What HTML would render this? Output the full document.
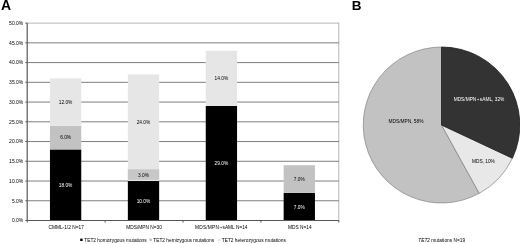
<!DOCTYPE html>
<html><head><meta charset="utf-8"><title>Figure</title>
<style>
html,body{margin:0;padding:0;background:#fff;}
body{width:520px;height:244px;overflow:hidden;}
svg{display:block;font-family:"Liberation Sans",Arial,sans-serif;}
.t{font-size:4.8px;fill:#000;}
.w{fill:#fff;}
.h{font-size:14px;font-weight:bold;fill:#000;}
</style></head><body>
<svg width="520" height="244" viewBox="0 0 520 244">
<rect width="520" height="244" fill="#fff"/>
<text class="h" x="1" y="10.3">A</text>
<text class="h" x="351.7" y="10.45" style="font-size:13.5px">B</text>
<rect x="27.2" y="23.1" width="311.6" height="197.4" fill="none" stroke="#b0b0b0" stroke-width="0.9"/>
<line x1="27.2" x2="338.8" y1="200.76" y2="200.76" stroke="#707070" stroke-width="0.9"/>
<line x1="27.2" x2="338.8" y1="181.02" y2="181.02" stroke="#707070" stroke-width="0.9"/>
<line x1="27.2" x2="338.8" y1="161.28" y2="161.28" stroke="#707070" stroke-width="0.9"/>
<line x1="27.2" x2="338.8" y1="141.54" y2="141.54" stroke="#707070" stroke-width="0.9"/>
<line x1="27.2" x2="338.8" y1="121.80" y2="121.80" stroke="#707070" stroke-width="0.9"/>
<line x1="27.2" x2="338.8" y1="102.06" y2="102.06" stroke="#707070" stroke-width="0.9"/>
<line x1="27.2" x2="338.8" y1="82.32" y2="82.32" stroke="#707070" stroke-width="0.9"/>
<line x1="27.2" x2="338.8" y1="62.58" y2="62.58" stroke="#707070" stroke-width="0.9"/>
<line x1="27.2" x2="338.8" y1="42.84" y2="42.84" stroke="#707070" stroke-width="0.9"/>
<rect x="49.95" y="149.44" width="31.3" height="71.06" fill="#000000"/>
<text class="t w" x="65.60" y="186.82" text-anchor="middle">18.0%</text>
<rect x="49.95" y="125.75" width="31.3" height="23.69" fill="#c2c2c2"/>
<text class="t" x="65.60" y="139.44" text-anchor="middle">6.0%</text>
<rect x="49.95" y="78.37" width="31.3" height="47.38" fill="#e6e6e6"/>
<text class="t" x="65.60" y="103.91" text-anchor="middle">12.0%</text>
<rect x="127.85" y="181.02" width="31.3" height="39.48" fill="#000000"/>
<text class="t w" x="143.50" y="202.61" text-anchor="middle">10.0%</text>
<rect x="127.85" y="169.18" width="31.3" height="11.84" fill="#e4e4e4"/>
<rect x="127.85" y="169.18" width="31.3" height="10.64" fill="#c7c7c7"/>
<text class="t" x="143.50" y="176.95" text-anchor="middle">3.0%</text>
<rect x="127.85" y="74.42" width="31.3" height="94.75" fill="#e6e6e6"/>
<text class="t" x="143.50" y="123.65" text-anchor="middle">24.0%</text>
<rect x="205.75" y="106.01" width="31.3" height="114.49" fill="#000000"/>
<text class="t w" x="221.40" y="165.10" text-anchor="middle">29.0%</text>
<rect x="205.75" y="50.74" width="31.3" height="55.27" fill="#e6e6e6"/>
<text class="t" x="221.40" y="80.22" text-anchor="middle">14.0%</text>
<rect x="283.65" y="192.86" width="31.3" height="27.64" fill="#000000"/>
<text class="t w" x="299.30" y="208.53" text-anchor="middle">7.0%</text>
<rect x="283.65" y="165.23" width="31.3" height="27.64" fill="#c2c2c2"/>
<text class="t" x="299.30" y="180.90" text-anchor="middle">7.0%</text>
<line x1="27.2" x2="27.2" y1="23.1" y2="220.5" stroke="#555" stroke-width="1"/>
<line x1="27.2" x2="338.8" y1="220.5" y2="220.5" stroke="#555" stroke-width="1"/>
<line x1="25.4" x2="27.2" y1="220.50" y2="220.50" stroke="#555" stroke-width="1"/>
<text class="t" x="23.3" y="222.40" text-anchor="end" style="font-size:5px">0.0%</text>
<line x1="25.4" x2="27.2" y1="200.76" y2="200.76" stroke="#555" stroke-width="1"/>
<text class="t" x="23.3" y="202.66" text-anchor="end" style="font-size:5px">5.0%</text>
<line x1="25.4" x2="27.2" y1="181.02" y2="181.02" stroke="#555" stroke-width="1"/>
<text class="t" x="23.3" y="182.92" text-anchor="end" style="font-size:5px">10.0%</text>
<line x1="25.4" x2="27.2" y1="161.28" y2="161.28" stroke="#555" stroke-width="1"/>
<text class="t" x="23.3" y="163.18" text-anchor="end" style="font-size:5px">15.0%</text>
<line x1="25.4" x2="27.2" y1="141.54" y2="141.54" stroke="#555" stroke-width="1"/>
<text class="t" x="23.3" y="143.44" text-anchor="end" style="font-size:5px">20.0%</text>
<line x1="25.4" x2="27.2" y1="121.80" y2="121.80" stroke="#555" stroke-width="1"/>
<text class="t" x="23.3" y="123.70" text-anchor="end" style="font-size:5px">25.0%</text>
<line x1="25.4" x2="27.2" y1="102.06" y2="102.06" stroke="#555" stroke-width="1"/>
<text class="t" x="23.3" y="103.96" text-anchor="end" style="font-size:5px">30.0%</text>
<line x1="25.4" x2="27.2" y1="82.32" y2="82.32" stroke="#555" stroke-width="1"/>
<text class="t" x="23.3" y="84.22" text-anchor="end" style="font-size:5px">35.0%</text>
<line x1="25.4" x2="27.2" y1="62.58" y2="62.58" stroke="#555" stroke-width="1"/>
<text class="t" x="23.3" y="64.48" text-anchor="end" style="font-size:5px">40.0%</text>
<line x1="25.4" x2="27.2" y1="42.84" y2="42.84" stroke="#555" stroke-width="1"/>
<text class="t" x="23.3" y="44.74" text-anchor="end" style="font-size:5px">45.0%</text>
<line x1="25.4" x2="27.2" y1="23.10" y2="23.10" stroke="#555" stroke-width="1"/>
<text class="t" x="23.3" y="25.00" text-anchor="end" style="font-size:5px">50.0%</text>
<line x1="27.20" x2="27.20" y1="220.5" y2="222.5" stroke="#555" stroke-width="1"/>
<line x1="105.10" x2="105.10" y1="220.5" y2="222.5" stroke="#555" stroke-width="1"/>
<line x1="183.00" x2="183.00" y1="220.5" y2="222.5" stroke="#555" stroke-width="1"/>
<line x1="260.90" x2="260.90" y1="220.5" y2="222.5" stroke="#555" stroke-width="1"/>
<line x1="338.80" x2="338.80" y1="220.5" y2="222.5" stroke="#555" stroke-width="1"/>
<text class="t" x="66.15" y="229.4" text-anchor="middle">CMML-1/2 N=17</text>
<text class="t" x="144.05" y="229.4" text-anchor="middle">MDS/MPN N=30</text>
<text class="t" x="219.1" y="229.4" text-anchor="end" style="letter-spacing:0.2px">MDS/MPN</text><text class="t" transform="translate(220.80,228.50) scale(0.3,0.75)" text-anchor="middle" style="font-size:12px;font-weight:bold">→</text><text class="t" x="222.5" y="229.4">sAML N=14</text>
<text class="t" x="299.85" y="229.4" text-anchor="middle">MDS N=14</text>
<rect x="80.2" y="238.6" width="2.4" height="2.4" fill="#000"/>
<text class="t" x="84.3" y="241.6">TET2 homozygous mutations</text>
<rect x="149.4" y="238.6" width="2.4" height="2.4" fill="#c0c0c0"/>
<text class="t" x="153.3" y="241.6">TET2 hemizygous mutations</text>
<rect x="217.8" y="238.6" width="2.4" height="2.4" fill="#e6e6e6"/>
<text class="t" x="221.8" y="241.6">TET2 heterozygous mutations</text>
<path d="M441.55,125.0 L479.27,193.35 A78.3,78.0 0 1 1 441.55,47.00 Z" fill="#c2c2c2" stroke="#747474" stroke-width="0.6" stroke-linejoin="round"/>
<path d="M441.55,125.0 L512.40,158.21 A78.3,78.0 0 0 1 479.27,193.35 Z" fill="#e8e8e8" stroke="#747474" stroke-width="0.6" stroke-linejoin="round"/>
<path d="M441.55,125.0 L441.55,47.00 A78.3,78.0 0 0 1 512.40,158.21 Z" fill="#333333" stroke="#1c1c1c" stroke-width="0.8" stroke-linejoin="round"/>
<text class="t w" x="476.3" y="101.3" text-anchor="end" style="letter-spacing:0px">MDS/MPN</text><text class="t w" transform="translate(478.05,101.20) scale(0.3,0.75)" text-anchor="middle" style="font-size:12px;font-weight:bold">→</text><text class="t w" x="479.8" y="101.3">sAML, 32%</text>
<text class="t" x="483.4" y="162.5" text-anchor="middle">MDS, 10%</text>
<text class="t" x="406" y="122.5" text-anchor="middle">MDS/MPN, 58%</text>
<text class="t" x="441.7" y="241.5" text-anchor="middle"><tspan font-style="italic">TET2</tspan> mutations N=19</text>
</svg>
</body></html>
